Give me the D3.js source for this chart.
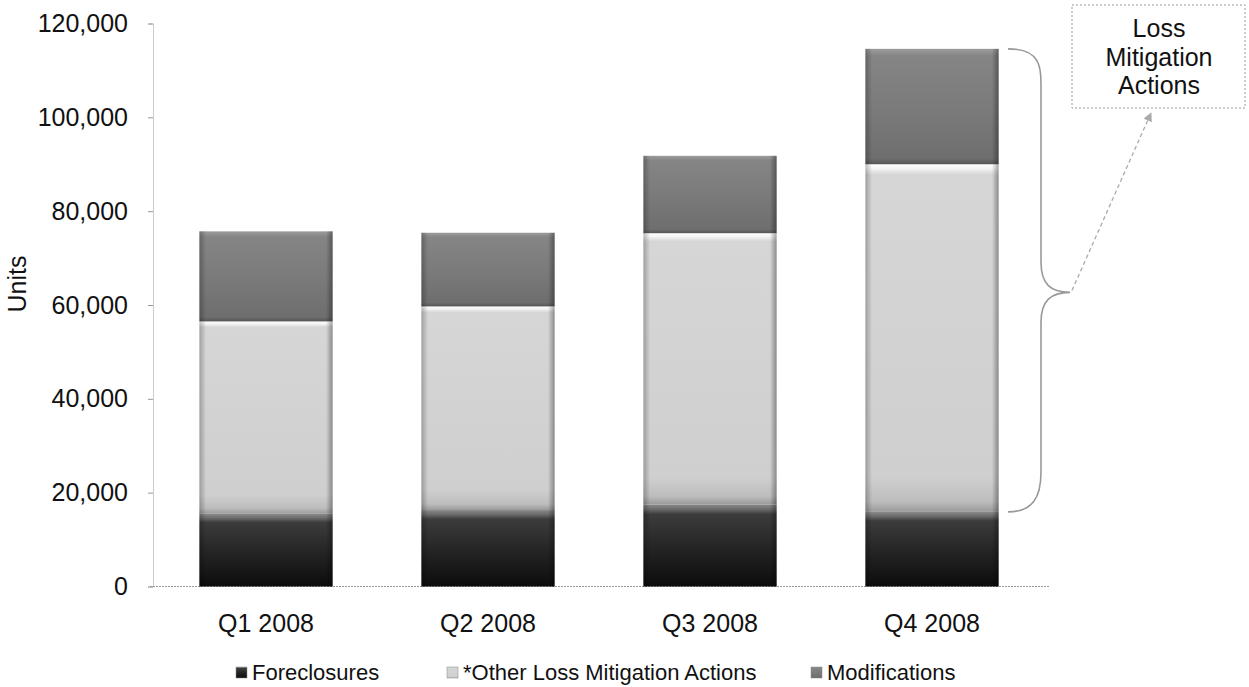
<!DOCTYPE html>
<html><head><meta charset="utf-8">
<script src="https://cdn.jsdelivr.net/npm/d3@7"></script>
<style>body{margin:0;background:#fff;}svg{display:block;font-family:"Liberation Sans",Arial,sans-serif;}</style>
</head><body>
<svg id="c" width="1249" height="687"></svg>
<script>
const categories = ["Q1 2008","Q2 2008","Q3 2008","Q4 2008"];
const foreclosures = [15500, 16300, 17500, 15900];
const otherLossMitigation = [41000, 43400, 57800, 74100];
const modifications = [19200, 15700, 16500, 24600];
const seriesNames = ["Foreclosures","*Other Loss Mitigation Actions","Modifications"];
const yTicks = [0,20000,40000,60000,80000,100000,120000];
const calloutLines = ["Loss","Mitigation","Actions"];

(function(){
const svg = d3.select("#c");
const defs = svg.append("defs");
function grad(id, stops, vertical=true){
  const g = defs.append("linearGradient").attr("id",id)
    .attr("x1",0).attr("y1",0).attr("x2",vertical?0:1).attr("y2",vertical?1:0);
  stops.forEach(s=>g.append("stop").attr("offset",s[0]).attr("stop-color",s[1]));
}
grad("gFore",[[0,"#8a8a8a"],[0.06,"#6a6a6a"],[0.12,"#3c3c3c"],[0.5,"#262626"],[1,"#0c0c0c"]]);
grad("gOther",[[0,"#ffffff"],[0.012,"#f4f4f4"],[0.03,"#d6d6d6"],[0.9,"#cfcfcf"],[0.97,"#bdbdbd"],[1,"#9a9a9a"]]);
grad("gMod",[[0,"#9c9c9c"],[0.06,"#858585"],[0.5,"#7b7b7b"],[0.95,"#6e6e6e"],[1,"#555"]]);
grad("gEdge",[[0,"rgba(0,0,0,0.25)"],[0.05,"rgba(0,0,0,0)"],[0.95,"rgba(0,0,0,0)"],[1,"rgba(0,0,0,0.35)"]],false);
defs.append("marker").attr("id","arr").attr("viewBox","0 0 10 10").attr("refX",9).attr("refY",5)
  .attr("markerWidth",7).attr("markerHeight",7).attr("orient","auto")
  .append("path").attr("d","M0,0 L10,5 L0,10 z").attr("fill","#aaa");

const x = d3.scaleBand().domain(categories).range([155,1043]).paddingInner(0.4).paddingOuter(0.2);
const y = d3.scaleLinear().domain([0,120000]).range([586.5,23.5]);

const yAxis = svg.append("g").attr("transform","translate(153,0)")
  .call(d3.axisLeft(y).tickValues(yTicks).tickFormat(d3.format(",")).tickSize(5).tickPadding(20));
yAxis.select(".domain").attr("stroke","#999").attr("stroke-dasharray","1,1");
yAxis.selectAll(".tick line").attr("stroke","#999");
yAxis.selectAll(".tick text").attr("font-size",25).attr("fill","#111").attr("font-family","'Liberation Sans',Arial,sans-serif");

svg.append("line").attr("x1",150).attr("x2",1050).attr("y1",y(0)).attr("y2",y(0))
  .attr("stroke","#999").attr("stroke-dasharray","2,1");

svg.append("text").attr("transform",`translate(26,${y(60000)-21}) rotate(-90)`)
  .attr("text-anchor","middle").attr("font-size",25).attr("fill","#111").text("Units");

const rows = categories.map((c,i)=>({cat:c, f:foreclosures[i], o:otherLossMitigation[i], m:modifications[i]}));
const stack = d3.stack().keys(["f","o","m"])(rows);
const fills = {f:"url(#gFore)", o:"url(#gOther)", m:"url(#gMod)"};
stack.forEach(layer=>{
  const g = svg.append("g");
  g.selectAll("rect.b").data(layer).join("rect").attr("class","b")
    .attr("x",d=>x(d.data.cat)).attr("width",x.bandwidth())
    .attr("y",d=>y(d[1])).attr("height",d=>y(d[0])-y(d[1]))
    .attr("fill",fills[layer.key]);
  g.selectAll("rect.e").data(layer).join("rect").attr("class","e")
    .attr("x",d=>x(d.data.cat)).attr("width",x.bandwidth())
    .attr("y",d=>y(d[1])).attr("height",d=>y(d[0])-y(d[1]))
    .attr("fill","url(#gEdge)");
});

svg.selectAll("text.xl").data(categories).join("text").attr("class","xl")
  .attr("x",d=>x(d)+x.bandwidth()/2).attr("y",632)
  .attr("text-anchor","middle").attr("font-size",25).attr("fill","#111").text(d=>d);

const legX = [236, 447, 811];
const legFill = ["url(#gFore)","url(#gOther)","url(#gMod)"];
const leg = svg.append("g");
seriesNames.forEach((n,i)=>{
  leg.append("rect").attr("x",legX[i]).attr("y",667).attr("width",11).attr("height",11)
    .attr("fill",legFill[i]).attr("stroke","#888").attr("stroke-width",0.5);
  leg.append("text").attr("x",legX[i]+16).attr("y",680).attr("font-size",22).attr("fill","#111").text(n);
});

const topY = y(foreclosures[3]+otherLossMitigation[3]+modifications[3]);
const botY = y(foreclosures[3]);
const tipY = (topY+botY)/2 + 12;
const bx = 1041, tipX = 1070, sx = 1008;
const brace = `M${sx},${topY} C${bx},${topY} ${bx},${topY+18} ${bx},${topY+40} L${bx},${tipY-30} C${bx},${tipY-8} ${bx+10},${tipY} ${tipX},${tipY}
 C${bx+10},${tipY} ${bx},${tipY+8} ${bx},${tipY+30} L${bx},${botY-40} C${bx},${botY-15} ${bx-8},${botY} ${sx},${botY}`;
svg.append("path").attr("d",brace).attr("fill","none").attr("stroke","#999").attr("stroke-width",1.6);

svg.append("line").attr("x1",tipX+2).attr("y1",tipY-2).attr("x2",1151).attr("y2",113)
  .attr("stroke","#aaa").attr("stroke-width",1.3).attr("stroke-dasharray","4,3").attr("marker-end","url(#arr)");

svg.append("rect").attr("x",1072).attr("y",5).attr("width",173).attr("height",103)
  .attr("fill","#fff").attr("stroke","#999").attr("stroke-dasharray","2,2");
svg.append("g").selectAll("text").data(calloutLines).join("text")
  .attr("x",1159).attr("y",(d,i)=>37+i*28.5).attr("text-anchor","middle")
  .attr("font-size",25).attr("fill","#111").text(d=>d);
})();
</script>
</body></html>
